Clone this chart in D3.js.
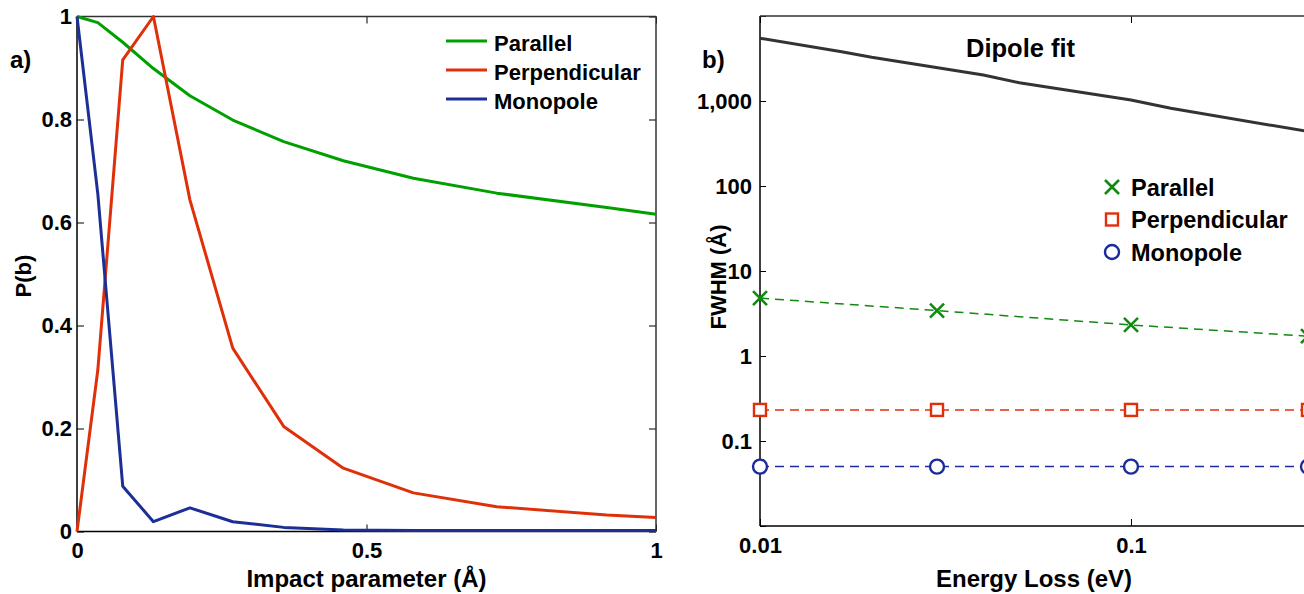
<!DOCTYPE html>
<html>
<head>
<meta charset="utf-8">
<script src="https://cdn.jsdelivr.net/npm/d3@7"></script>
<style>
  body { margin: 0; background: #fff; }
  svg text { font-family: "Liberation Sans", Arial, sans-serif; font-weight: bold; fill: #000; }
</style>
</head>
<body>
<div id="myVis"></div>
<script>

// panel a) probability vs impact parameter
const impactB   = [0, 0.036, 0.079, 0.132, 0.195, 0.269, 0.357, 0.46, 0.581, 0.725, 0.915, 1.0]
const parallelP = [1, 0.988, 0.95, 0.899, 0.846, 0.799, 0.757, 0.72, 0.686, 0.657, 0.629, 0.616]
const perpP     = [0, 0.314, 0.916, 1.0, 0.644, 0.356, 0.204, 0.123, 0.075, 0.048, 0.032, 0.027]
const monoP     = [1, 0.655, 0.088, 0.019, 0.046, 0.019, 0.008, 0.003, 0.002, 0.002, 0.002, 0.002]
const seriesNames = ["Parallel", "Perpendicular", "Monopole"]
const xTicksA = [0, 0.5, 1]
const yTicksA = [0, 0.2, 0.4, 0.6, 0.8, 1]

// panel b) FWHM vs energy loss
const energy      = [0.01, 0.03, 0.1, 0.3]
const fwhmPar     = [4.8, 3.42, 2.32, 1.71]
const fwhmPerp    = [0.232, 0.232, 0.232, 0.232]
const fwhmMono    = [0.05, 0.05, 0.05, 0.05]
const dipoleE     = [0.01, 0.0166, 0.02, 0.04, 0.05, 0.1, 0.128, 0.3]
const dipoleFwhm  = [5470, 3800, 3270, 2020, 1640, 1028, 820, 438]
const xTicksB = [0.01, 0.1]
const yTicksB = [0.01, 0.1, 1, 10, 100, 1000, 10000]

const colA = ["#00a000", "#e0300a", "#1c2f96"]
const colB = ["#118a11", "#e0300a", "#1a2c9c"]

const svg = d3.select("#myVis")
    .append("svg")
        .attr("width", 1304)
        .attr("height", 594)

function styleAxis(g, size) {
    g.select(".domain").remove()
    g.selectAll(".tick line").attr("stroke", "#000").attr("stroke-width", 1)
    g.selectAll("text").attr("font-size", size).attr("font-family", null)
}

function frame(g, x0, x1, y0, y1) {
    g.append("line").attr("x1", x0).attr("x2", x1).attr("y1", y0).attr("y2", y0)
        .attr("stroke", "#000").attr("stroke-width", 1.5)
    g.append("line").attr("x1", x0).attr("x2", x0).attr("y1", y0).attr("y2", y1)
        .attr("stroke", "#000").attr("stroke-width", 1.5)
    g.append("line").attr("x1", x0).attr("x2", x1).attr("y1", y1).attr("y2", y1)
        .attr("stroke", "#333").attr("stroke-width", 1.5)
    g.append("line").attr("x1", x1).attr("x2", x1).attr("y1", y0).attr("y2", y1)
        .attr("stroke", "#333").attr("stroke-width", 1.5)
}

// ---------- panel a ----------
const xA = d3.scaleLinear().domain([0, 1]).range([77, 656])
const yA = d3.scaleLinear().domain([0, 1]).range([531.5, 16.5])

const pa = svg.append("g")

pa.append("g").attr("transform", "translate(0,531.5)")
    .call(d3.axisBottom(xA).tickValues(xTicksA).tickSize(-7).tickPadding(11).tickFormat(d3.format("")))
    .call(g => styleAxis(g, 22))
pa.append("g").attr("transform", "translate(0,16.5)")
    .call(d3.axisTop(xA).tickValues(xTicksA).tickSize(-7).tickFormat(""))
    .call(g => styleAxis(g, 22))
pa.append("g").attr("transform", "translate(77,0)")
    .call(d3.axisLeft(yA).tickValues(yTicksA).tickSize(-7).tickPadding(5).tickFormat(d3.format("")))
    .call(g => styleAxis(g, 22))
pa.append("g").attr("transform", "translate(656,0)")
    .call(d3.axisRight(yA).tickValues(yTicksA).tickSize(-7).tickFormat(""))
    .call(g => styleAxis(g, 22))

frame(pa, 77, 656, 531.5, 16.5)

const lineA = d3.line().x(d => xA(d[0])).y(d => yA(d[1]))
const seriesA = [parallelP, perpP, monoP]

seriesA.forEach((vals, i) => {
    pa.append("path")
        .datum(impactB.map((b, j) => [b, vals[j]]))
        .attr("d", lineA)
        .attr("fill", "none")
        .attr("stroke", colA[i])
        .attr("stroke-width", 3)
        .attr("stroke-linejoin", "round")
})

// legend a
seriesNames.forEach((name, i) => {
    const ly = 41 + i * 29
    pa.append("line").attr("x1", 446).attr("x2", 487).attr("y1", ly).attr("y2", ly)
        .attr("stroke", colA[i]).attr("stroke-width", 3)
    pa.append("text").attr("x", 494).attr("y", ly + 9.5).attr("font-size", 22).text(name)
})

pa.append("text").attr("x", 10).attr("y", 68).attr("font-size", 24).text("a)")
pa.append("text").attr("x", 366.5).attr("y", 587).attr("text-anchor", "middle")
    .attr("font-size", 24).text("Impact parameter (Å)")
pa.append("text").attr("transform", "translate(31,276) rotate(-90)")
    .attr("text-anchor", "middle").attr("font-size", 22).text("P(b)")

// ---------- panel b ----------
const xB = d3.scaleLog().domain([0.01, 0.3]).range([760, 1308])
const yB = d3.scaleLog().domain([0.01, 10000]).range([526, 16])

const pb = svg.append("g")

const fmtB = d => (d >= 0.1 && d <= 1000) ? d3.format(",")(d) : ""

pb.append("g").attr("transform", "translate(0,526)")
    .call(d3.axisBottom(xB).tickValues(xTicksB).tickSize(-7).tickPadding(11).tickFormat(d3.format("")))
    .call(g => styleAxis(g, 22))
pb.append("g").attr("transform", "translate(0,16)")
    .call(d3.axisTop(xB).tickValues(xTicksB).tickSize(-7).tickFormat(""))
    .call(g => styleAxis(g, 22))
pb.append("g").attr("transform", "translate(760,0)")
    .call(d3.axisLeft(yB).tickValues(yTicksB).tickSize(-6).tickPadding(8).tickFormat(fmtB))
    .call(g => styleAxis(g, 22))

frame(pb, 760, 1308, 526, 16)

// dipole fit curve
pb.append("path")
    .datum(dipoleE.map((e, j) => [e, dipoleFwhm[j]]))
    .attr("d", d3.line().x(d => xB(d[0])).y(d => yB(d[1])))
    .attr("fill", "none")
    .attr("stroke", "#333")
    .attr("stroke-width", 3)

pb.append("text").attr("x", 966).attr("y", 57).attr("font-size", 25.5).text("Dipole fit")

const seriesB = [fwhmPar, fwhmPerp, fwhmMono]
const lineB = d3.line().x(d => xB(d[0])).y(d => yB(d[1]))

function marker(g, kind, color, cx, cy) {
    if (kind == 0) {
        g.append("path")
            .attr("d", `M${cx-7},${cy-7}L${cx+7},${cy+7}M${cx-7},${cy+7}L${cx+7},${cy-7}`)
            .attr("stroke", color).attr("stroke-width", 2.6).attr("fill", "none")
    } else if (kind == 1) {
        g.append("rect").attr("x", cx - 6).attr("y", cy - 6).attr("width", 12).attr("height", 12)
            .attr("fill", "#fff").attr("stroke", color).attr("stroke-width", 2.4)
    } else {
        g.append("circle").attr("cx", cx).attr("cy", cy).attr("r", 7)
            .attr("fill", "#fff").attr("stroke", color).attr("stroke-width", 2.4)
    }
}

seriesB.forEach((vals, i) => {
    const pts = energy.map((e, j) => [e, vals[j]])
    pb.append("path")
        .datum(pts)
        .attr("d", lineB)
        .attr("fill", "none")
        .attr("stroke", colB[i])
        .attr("stroke-width", 1.5)
        .attr("stroke-dasharray", "9,6")
    pts.forEach(p => marker(pb, i, colB[i], xB(p[0]), yB(p[1])))
})

// legend b
seriesNames.forEach((name, i) => {
    const ly = 187 + i * 32.5
    marker(pb, i, colB[i], 1112, ly)
    pb.append("text").attr("x", 1131).attr("y", ly + 8.5).attr("font-size", 23.5).text(name)
})

pb.append("text").attr("x", 702).attr("y", 68).attr("font-size", 24).text("b)")
pb.append("text").attr("x", 1034).attr("y", 587).attr("text-anchor", "middle")
    .attr("font-size", 24).text("Energy Loss (eV)")
pb.append("text").attr("transform", "translate(726,277) rotate(-90)")
    .attr("text-anchor", "middle").attr("font-size", 22).text("FWHM (Å)")

</script>
</body>
</html>
